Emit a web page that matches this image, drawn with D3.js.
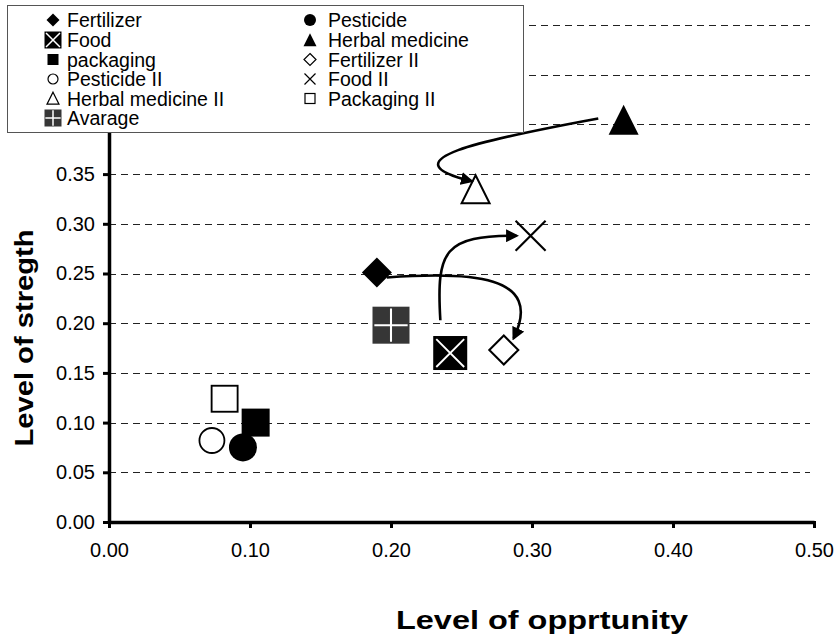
<!DOCTYPE html>
<html>
<head>
<meta charset="utf-8">
<script src="https://cdn.jsdelivr.net/npm/d3@7"></script>
<style>
 body { margin: 0; background: #fff; }
 text { font-family: Arial, "Liberation Sans", sans-serif; fill: #000; }
 .tick-label { font-size: 20px; }
 .legend-label { font-size: 19.5px; }
 .axis-title { font-size: 26px; font-weight: bold; }
</style>
</head>
<body>
<div id="chart"></div>
<script>
// series, in legend order (left column first, then right column, row by row)
var names = ["Fertilizer", "Pesticide", "Food", "Herbal medicine", "packaging", "Fertilizer II",
             "Pesticide II", "Food II", "Herbal medicine II", "Packaging II", "Avarage"];
var markerTypes = ["diamond", "circle", "squareX", "triangle", "square", "diamondOpen",
                   "circleOpen", "cross", "triangleOpen", "squareOpen", "squarePlus"];
var opportunity = [0.190, 0.095, 0.242, 0.365, 0.104, 0.280, 0.073, 0.299, 0.260, 0.082, 0.200];
var strength    = [0.251, 0.075, 0.170, 0.404, 0.100, 0.173, 0.082, 0.288, 0.334, 0.124, 0.198];

var xTicks = [0, 0.1, 0.2, 0.3, 0.4, 0.5];
var yTicks = [0, 0.05, 0.1, 0.15, 0.2, 0.25, 0.3, 0.35, 0.4, 0.45, 0.5];

// curved arrows (start, control1, control2, end) in data units
var arrowHerbal = [[0.347, 0.406], [0.263, 0.384], [0.196, 0.364], [0.257, 0.343]];
var arrowFood   = [[0.235, 0.203], [0.232, 0.274], [0.238, 0.288], [0.289, 0.288]];
var arrowFert   = [[0.197, 0.246], [0.256, 0.252], [0.309, 0.249], [0.287, 0.185]];

var width = 834, height = 641;

var svg = d3.select("#chart").append("svg")
    .attr("width", width)
    .attr("height", height);

svg.append("rect").attr("width", width).attr("height", height).attr("fill", "#fff");

var x = d3.scaleLinear().domain([0, 0.5]).range([109, 814]);
var y = d3.scaleLinear().domain([0, 0.5]).range([522, 25]);

// dashed grid lines
svg.append("g").selectAll("line")
    .data(yTicks.slice(1))
    .enter().append("line")
    .attr("x1", x(0))
    .attr("x2", x(0.5) - 4)
    .attr("y1", function(d) { return Math.round(y(d)) + 0.5; })
    .attr("y2", function(d) { return Math.round(y(d)) + 0.5; })
    .attr("stroke", "#222")
    .attr("stroke-width", 1)
    .attr("stroke-dasharray", "7,5");

// axes
var xAxis = svg.append("g")
    .attr("transform", "translate(0," + y(0) + ")")
    .call(d3.axisBottom(x).tickValues(xTicks).tickSize(6).tickSizeOuter(0).tickFormat(d3.format(".2f")));
var yAxis = svg.append("g")
    .attr("transform", "translate(" + x(0) + ",0)")
    .call(d3.axisLeft(y).tickValues(yTicks).tickSize(6).tickSizeOuter(0).tickFormat(d3.format(".2f")));

[xAxis, yAxis].forEach(function(a) {
  a.select(".domain").attr("stroke", "#000").attr("stroke-width", 3.5);
  a.selectAll(".tick line").attr("stroke", "#000").attr("stroke-width", 3);
  a.selectAll(".tick text").attr("class", "tick-label");
});
xAxis.selectAll(".tick line").attr("y1", -1);
xAxis.selectAll(".tick text").attr("y", 21);
yAxis.selectAll(".tick text").attr("x", -14);

// marker drawing
function drawMarker(g, type, s) {
  var sw = Math.max(1.2, s / 7);
  if (type == "diamond" || type == "diamondOpen") {
    g.append("path")
      .attr("d", "M0," + (-s) + "L" + s + ",0L0," + s + "L" + (-s) + ",0Z")
      .attr("fill", type == "diamond" ? "#000" : "#fff")
      .attr("stroke", "#000").attr("stroke-width", type == "diamond" ? 0 : sw);
  } else if (type == "circle" || type == "circleOpen") {
    g.append("circle").attr("r", s)
      .attr("fill", type == "circle" ? "#000" : "#fff")
      .attr("stroke", "#000").attr("stroke-width", type == "circle" ? 0 : sw);
  } else if (type == "triangle" || type == "triangleOpen") {
    g.append("path")
      .attr("d", "M0," + (-s * 1.05) + "L" + s + "," + (s * 0.95) + "L" + (-s) + "," + (s * 0.95) + "Z")
      .attr("fill", type == "triangle" ? "#000" : "#fff")
      .attr("stroke", "#000").attr("stroke-width", type == "triangle" ? 0 : sw)
      .attr("stroke-linejoin", "miter");
  } else if (type == "square" || type == "squareOpen") {
    g.append("rect").attr("x", -s).attr("y", -s).attr("width", 2 * s).attr("height", 2 * s)
      .attr("fill", type == "square" ? "#000" : "#fff")
      .attr("stroke", "#000").attr("stroke-width", type == "square" ? 0 : sw);
  } else if (type == "cross") {
    g.append("path")
      .attr("d", "M" + (-s) + "," + (-s) + "L" + s + "," + s + "M" + s + "," + (-s) + "L" + (-s) + "," + s)
      .attr("stroke", "#000").attr("stroke-width", sw).attr("fill", "none");
  } else if (type == "squareX") {
    g.append("rect").attr("x", -s).attr("y", -s).attr("width", 2 * s).attr("height", 2 * s).attr("fill", "#000");
    var k = s * 0.82;
    g.append("path")
      .attr("d", "M" + (-k) + "," + (-k) + "L" + k + "," + k + "M" + k + "," + (-k) + "L" + (-k) + "," + k)
      .attr("stroke", "#fff").attr("stroke-width", Math.max(1.5, s / 9));
  } else if (type == "squarePlus") {
    g.append("rect").attr("x", -s).attr("y", -s).attr("width", 2 * s).attr("height", 2 * s).attr("fill", "#363636");
    var p = s * 0.9;
    g.append("path")
      .attr("d", "M" + (-p) + ",0L" + p + ",0M0," + (-p) + "L0," + p)
      .attr("stroke", "#fff").attr("stroke-width", Math.max(1.5, s / 9));
  }
}

// plot marker half-sizes per series
var plotSize = { diamond: 15, circle: 14, squareX: 17, triangle: 15, square: 14, diamondOpen: 14.5,
                 circleOpen: 12.5, cross: 15, triangleOpen: 14, squareOpen: 13, squarePlus: 18.5 };
var legendSize = { diamond: 6.5, circle: 6, squareX: 8.5, triangle: 6.5, square: 5.5, diamondOpen: 6,
                   circleOpen: 5, cross: 5.5, triangleOpen: 6, squareOpen: 5, squarePlus: 8.5 };

var points = names.map(function(n, i) {
  return { name: n, type: markerTypes[i], x: opportunity[i], y: strength[i] };
});

// draw order so the filled markers sit on top of the open ones
var drawOrder = [9, 6, 4, 1, 10, 2, 5, 0, 7, 8, 3];
svg.append("g").selectAll("g.pt")
    .data(drawOrder.map(function(i) { return points[i]; }))
    .enter().append("g")
    .attr("class", "pt")
    .attr("transform", function(d) { return "translate(" + x(d.x) + "," + y(d.y) + ")"; })
    .each(function(d) { drawMarker(d3.select(this), d.type, plotSize[d.type]); });

// arrows
svg.append("defs").append("marker")
    .attr("id", "head")
    .attr("viewBox", "0 0 10 10")
    .attr("refX", 8).attr("refY", 5)
    .attr("markerWidth", 5).attr("markerHeight", 5)
    .attr("markerUnits", "strokeWidth")
    .attr("orient", "auto")
  .append("path")
    .attr("d", "M0,0L10,5L0,10Z")
    .attr("fill", "#000");

function curve(c) {
  var pt = c.map(function(p) { return [x(p[0]), y(p[1])]; });
  return "M" + pt[0] + "C" + pt[1] + " " + pt[2] + " " + pt[3];
}
svg.append("g").selectAll("path")
    .data([arrowHerbal, arrowFood, arrowFert])
    .enter().append("path")
    .attr("d", curve)
    .attr("fill", "none")
    .attr("stroke", "#000")
    .attr("stroke-width", 2.6)
    .attr("marker-end", "url(#head)");

// legend box
var legend = svg.append("g");
legend.append("rect")
    .attr("x", 7.5).attr("y", 5.5)
    .attr("width", 516).attr("height", 127)
    .attr("fill", "#fff")
    .attr("stroke", "#555")
    .attr("stroke-width", 1);

var rowY = [20, 40, 59.5, 79, 98.5, 118];
var colX = [53, 310];
var colText = [67, 328];

names.forEach(function(n, i) {
  var col = i % 2, row = Math.floor(i / 2);
  var item = legend.append("g").attr("transform", "translate(" + colX[col] + "," + rowY[row] + ")");
  drawMarker(item, markerTypes[i], legendSize[markerTypes[i]]);
  legend.append("text")
      .attr("class", "legend-label")
      .attr("x", colText[col])
      .attr("y", rowY[row] + 7)
      .text(n);
});

// axis titles
svg.append("text")
    .attr("class", "axis-title")
    .attr("text-anchor", "middle")
    .attr("transform", "translate(33,338) rotate(-90)")
    .attr("textLength", 217)
    .attr("lengthAdjust", "spacingAndGlyphs")
    .text("Level of stregth");

svg.append("text")
    .attr("class", "axis-title")
    .attr("text-anchor", "middle")
    .attr("x", 542)
    .attr("y", 629)
    .attr("textLength", 292)
    .attr("lengthAdjust", "spacingAndGlyphs")
    .text("Level of opprtunity");
</script>
</body>
</html>
